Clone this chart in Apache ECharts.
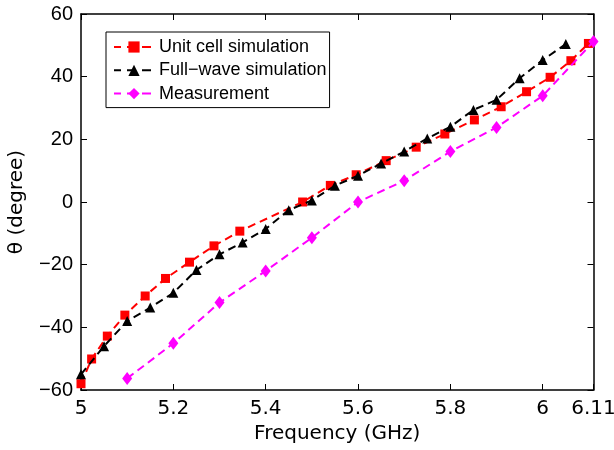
<!DOCTYPE html>
<html>
<head>
<meta charset="utf-8">
<script src="https://cdn.jsdelivr.net/npm/echarts@6/dist/echarts.min.js"></script>
<style>
  html, body { margin: 0; padding: 0; background: #fff; }
  #chart { width: 614px; height: 450px; }
</style>
</head>
<body>
<div id="chart"></div>
<script>
// values
let xTicks = [5, 5.2, 5.4, 5.6, 5.8, 6, 6.11];
let yTicks = [-60, -40, -20, 0, 20, 40, 60];

let unitFreq = [5.0, 5.023, 5.057, 5.095, 5.139, 5.183, 5.235, 5.288, 5.344, 5.48, 5.54,
  5.596, 5.661, 5.726, 5.788, 5.852, 5.91, 5.965, 6.016, 6.061, 6.099];
let unitVal = [-58, -50.1, -42.8, -36.1, -30, -24.4, -19.2, -14, -9.3, 0, 5.3,
  8.7, 13.2, 17.5, 21.7, 26.2, 30.4, 35.2, 39.8, 45.1, 50.6];

let fullFreq = [5.0, 5.05, 5.1, 5.15, 5.2, 5.25, 5.3, 5.35, 5.4, 5.45, 5.5,
  5.55, 5.6, 5.65, 5.7, 5.75, 5.8, 5.85, 5.9, 5.95, 6.0, 6.05];
let fullVal = [-55, -46, -38, -33.7, -29, -21.7, -16.7, -12.9, -8.6, -2.6, 0.5,
  5.2, 8.4, 12.3, 16.1, 20.3, 24, 29.4, 32.6, 39.5, 45.3, 50.4];

let measFreq = [5.1, 5.2, 5.3, 5.4, 5.5, 5.6, 5.7, 5.8, 5.9, 6.0, 6.11];
let measVal = [-56.3, -45.1, -32.1, -22, -11.4, 0, 6.8, 16.1, 23.8, 33.9, 51.2];

function pairs(xs, ys) {
  return xs.map(function (x, i) { return [x, ys[i]]; });
}

let font = 'Liberation Sans, Arial, Helvetica, sans-serif';
let wideFont = 'DejaVu Sans, Verdana, sans-serif';

function fmtTick(v) {
  return String(v).replace('-', '\u2212');
}

let chart = echarts.init(document.getElementById('chart'));

let baseX = {
  type: 'value', min: 5, max: 6.11,
  splitLine: { show: false },
  axisLine: { show: true, onZero: false, lineStyle: { color: '#000', width: 1.5 } },
  axisTick: { show: true, inside: true, length: 6, customValues: xTicks, lineStyle: { color: '#000', width: 1 } }
};
let baseY = {
  type: 'value', min: -60, max: 60, interval: 20,
  splitLine: { show: false },
  axisLine: { show: true, onZero: false, lineStyle: { color: '#000', width: 1.5 } },
  axisTick: { show: true, inside: true, length: 6, lineStyle: { color: '#000', width: 1 } }
};

let option = {
  animation: false,
  backgroundColor: '#fff',
  grid: { left: 81, right: 20.5, top: 14, bottom: 60, containLabel: false, outerBoundsMode: 'none' },
  legend: {
    orient: 'vertical',
    left: 106, top: 32,
    padding: [6, 3, 5, 7],
    itemGap: 5.3,
    itemWidth: 40,
    itemHeight: 14,
    borderColor: '#000',
    borderWidth: 1,
    borderRadius: 0,
    backgroundColor: '#fff',
    lineStyle: { type: [9, 6], dashOffset: 2 },
    textStyle: { fontFamily: font, fontSize: 18, lineHeight: 18, color: '#000' },
    data: ['Unit cell simulation', 'Full\u2212wave simulation', 'Measurement']
  },
  xAxis: [
    Object.assign({}, baseX, {
      position: 'bottom',
      name: 'Frequency (GHz)',
      nameLocation: 'middle',
      nameGap: 33,
      nameTextStyle: { fontFamily: wideFont, fontSize: 20, color: '#000' },
      axisLabel: {
        customValues: xTicks, margin: 9,
        fontFamily: wideFont, fontSize: 20, color: '#000',
        formatter: fmtTick
      }
    }),
    Object.assign({}, baseX, { position: 'top', axisLabel: { show: false } })
  ],
  yAxis: [
    Object.assign({}, baseY, {
      position: 'left',
      name: '\u03b8 (degree)',
      nameLocation: 'middle',
      nameGap: 54,
      nameTextStyle: { fontFamily: wideFont, fontSize: 20, color: '#000' },
      axisLabel: {
        margin: 8, fontFamily: font, fontSize: 20, color: '#000',
        formatter: fmtTick
      }
    }),
    Object.assign({}, baseY, { position: 'right', axisLabel: { show: false } })
  ],
  series: [
    {
      name: 'Unit cell simulation', type: 'line',
      data: pairs(unitFreq, unitVal),
      symbol: 'rect', symbolSize: 9,
      itemStyle: { color: '#ff0000' },
      lineStyle: { color: '#ff0000', width: 2, type: [8, 5] },
      z: 2
    },
    {
      name: 'Full\u2212wave simulation', type: 'line',
      data: pairs(fullFreq, fullVal),
      symbol: 'triangle', symbolSize: 10,
      itemStyle: { color: '#000' },
      lineStyle: { color: '#000', width: 2, type: [8, 5] },
      z: 3
    },
    {
      name: 'Measurement', type: 'line',
      data: pairs(measFreq, measVal),
      symbol: 'diamond', symbolSize: [10, 13],
      itemStyle: { color: '#ff00ff' },
      lineStyle: { color: '#ff00ff', width: 2, type: [8, 5] },
      z: 4
    }
  ]
};

chart.setOption(option);
</script>
</body>
</html>
